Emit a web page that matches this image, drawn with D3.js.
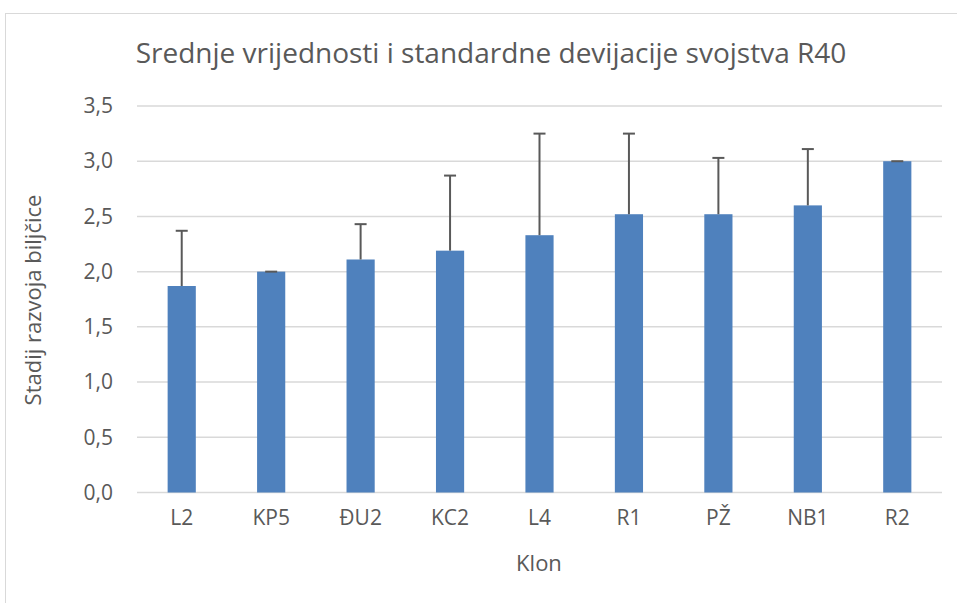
<!DOCTYPE html>
<html>
<head>
<meta charset="utf-8">
<script src="https://cdn.jsdelivr.net/npm/d3@7"></script>
<style>
  body { margin: 0; background: #fff; }
  text { font-family: "Open Sans", "Noto Sans", sans-serif; fill: #595959; }
</style>
</head>
<body>
<svg id="chart"></svg>
<script>
const categories = ["L2", "KP5", "ĐU2", "KC2", "L4", "R1", "PŽ", "NB1", "R2"];
const means = [1.87, 2.0, 2.11, 2.19, 2.33, 2.52, 2.52, 2.60, 3.0];
const stdevs = [0.50, 0, 0.32, 0.68, 0.92, 0.73, 0.51, 0.51, 0];
const yTicks = [0, 0.5, 1, 1.5, 2, 2.5, 3, 3.5];

const w = 957;
const h = 603;
const plotLeft = 137, plotRight = 942, plotTop = 106, plotBottom = 492.5;

const svg = d3.select("#chart")
    .attr("width", w)
    .attr("height", h);

// chart frame (runs off the right and bottom edge)
svg.append("rect")
    .attr("x", 5.5).attr("y", 13.5)
    .attr("width", w + 20).attr("height", h + 20)
    .attr("fill", "none")
    .attr("stroke", "#d9d9d9")
    .attr("stroke-width", 1);

const data = categories.map((c, i) => ({ c, m: means[i], sd: stdevs[i] }));

const xScale = d3.scaleBand()
    .domain(categories)
    .range([plotLeft, plotRight])
    .paddingInner(0.685)
    .paddingOuter(0.3425);

const yScale = d3.scaleLinear()
    .domain([0, 3.5])
    .range([plotBottom, plotTop]);

// gridlines
svg.append("g")
    .selectAll("line")
    .data(yTicks)
    .enter()
    .append("line")
    .attr("x1", plotLeft).attr("x2", plotRight)
    .attr("y1", d => yScale(d)).attr("y2", d => yScale(d))
    .attr("stroke", "#d9d9d9")
    .attr("stroke-width", 1.5);

// bars
svg.selectAll("rect.bar")
    .data(data)
    .enter()
    .append("rect")
    .attr("class", "bar")
    .attr("x", d => xScale(d.c))
    .attr("y", d => yScale(d.m))
    .attr("width", xScale.bandwidth())
    .attr("height", d => yScale(0) - yScale(d.m))
    .attr("fill", "#4f81bd");

// error bars (plus only)
const err = svg.append("g").attr("stroke", "#595959").attr("stroke-width", 2);
data.forEach(d => {
    const cx = xScale(d.c) + xScale.bandwidth() / 2;
    if (d.sd > 0) {
        err.append("line")
            .attr("x1", cx).attr("x2", cx)
            .attr("y1", yScale(d.m)).attr("y2", yScale(d.m + d.sd));
    }
    err.append("line")
        .attr("x1", cx - 6).attr("x2", cx + 6)
        .attr("y1", yScale(d.m + d.sd)).attr("y2", yScale(d.m + d.sd));
});

// axes
const fmt = d => d3.format(".1f")(d).replace(".", ",");
const yAxis = d3.axisLeft(yScale).tickValues(yTicks).tickFormat(fmt).tickSize(0).tickPadding(24);
svg.append("g")
    .attr("transform", `translate(${plotLeft},0)`)
    .call(yAxis)
    .call(g => g.select(".domain").remove())
    .selectAll("text")
    .style("font-size", "21px")
    .style("font-family", null)
    .attr("fill", "#595959");

const xAxis = d3.axisBottom(xScale).tickSize(0).tickPadding(18);
svg.append("g")
    .attr("transform", `translate(0,${plotBottom})`)
    .call(xAxis)
    .call(g => g.select(".domain").remove())
    .selectAll("text")
    .style("font-size", "21px")
    .attr("fill", "#595959");

svg.selectAll(".tick text").attr("font-family", null);
svg.selectAll("g[font-family]").attr("font-family", null);

// titles
svg.append("text")
    .attr("x", 491).attr("y", 63)
    .attr("text-anchor", "middle")
    .style("font-size", "28px")
    .text("Srednje vrijednosti i standardne devijacije svojstva R40");

svg.append("text")
    .attr("x", 539).attr("y", 571)
    .attr("text-anchor", "middle")
    .style("font-size", "22px")
    .text("Klon");

svg.append("text")
    .attr("transform", "rotate(-90)")
    .attr("x", -300).attr("y", 41)
    .attr("text-anchor", "middle")
    .style("font-size", "22px")
    .text("Stadij razvoja biljčice");
</script>
</body>
</html>
